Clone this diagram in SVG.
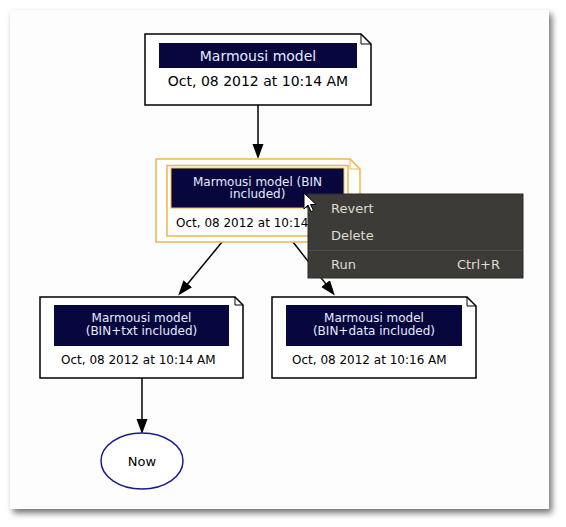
<svg xmlns="http://www.w3.org/2000/svg" width="566" height="527" viewBox="0 0 566 527">
<defs>
<filter id="sh" x="-5%" y="-5%" width="112%" height="112%">
<feDropShadow dx="3" dy="4" stdDeviation="3" flood-color="#000" flood-opacity="0.55"/>
</filter>
<marker id="ah" markerUnits="userSpaceOnUse" markerWidth="16" markerHeight="12" refX="1" refY="5.5" orient="auto">
<path d="M0,0 L15,5.5 L0,11 z" fill="#000"/>
</marker>
<style>
.note{fill:#fff;stroke:#000;stroke-width:1.5}
.fold{fill:none;stroke:#000;stroke-width:1}
.bar{fill:#07073e}
.title{font-family:"DejaVu Sans",sans-serif;fill:#e4ebff;text-anchor:middle}
.date{font-family:"DejaVu Sans",sans-serif;fill:#000;font-size:12px}
.sel{fill:#fff;stroke:#f0b545;stroke-width:1.5}
.conn line{stroke:#000;stroke-width:1.5;marker-end:url(#ah)}
.menu text{font-family:"DejaVu Sans",sans-serif;font-size:13px;fill:#dfdbd2}
</style>
</defs>
<rect width="566" height="527" fill="#fff"/>
<rect x="10" y="10" width="539" height="499" fill="#fdfdfd" filter="url(#sh)"/>

<g id="connectors" class="conn">
<line x1="258" y1="105" x2="258" y2="145"/>
<line x1="222" y1="242" x2="187.1" y2="284.6"/>
<line x1="293" y1="242" x2="326.2" y2="284.4"/>
<line x1="142" y1="378" x2="142" y2="420"/>
</g>

<g id="node-top">
<path class="note" d="M145,34 H361 L371,44 V105 H145 z"/>
<path class="fold" d="M361,34 V44 H371"/>
<rect class="bar" x="159" y="43" width="198" height="25"/>
<text class="title" x="258" y="61" font-size="14">Marmousi model</text>
<text class="date" x="258" y="86" font-size="14" text-anchor="middle" style="font-size:14px">Oct, 08 2012 at 10:14 AM</text>
</g>

<g id="node-bin">
<path class="sel" d="M156,159 H350 L360,169 V242 H156 z"/>
<path d="M350,159 V169 H360" fill="none" stroke="#f0b545" stroke-width="1"/>
<rect class="sel" x="167" y="165.5" width="181" height="70.5"/>
<rect class="bar" x="171" y="168" width="173" height="40" stroke="#f0b545" stroke-width="1"/>
<text class="title" x="257.5" y="185.5" font-size="12">Marmousi model (BIN</text>
<text class="title" x="257.5" y="198" font-size="12">included)</text>
<text class="date" x="176" y="226.5">Oct, 08 2012 at 10:14 AM</text>
</g>

<g id="node-txt">
<path class="note" d="M40,297 H235 L243,305 V378 H40 z"/>
<path class="fold" d="M235,297 V305 H243"/>
<rect class="bar" x="54" y="305" width="175" height="41"/>
<text class="title" x="141.5" y="321.5" font-size="12">Marmousi model</text>
<text class="title" x="141.5" y="334.5" font-size="12">(BIN+txt included)</text>
<text class="date" x="61" y="363.5">Oct, 08 2012 at 10:14 AM</text>
</g>

<g id="node-data">
<path class="note" d="M272,297 H467 L476,306 V378 H272 z"/>
<path class="fold" d="M467,297 V306 H476"/>
<rect class="bar" x="286" y="305" width="176" height="41"/>
<text class="title" x="374" y="321.5" font-size="12">Marmousi model</text>
<text class="title" x="374" y="334.5" font-size="12">(BIN+data included)</text>
<text class="date" x="292" y="363.5">Oct, 08 2012 at 10:16 AM</text>
</g>

<g id="node-now">
<ellipse cx="142" cy="461" rx="41" ry="28" fill="#fff" stroke="#1b1b8a" stroke-width="1.5"/>
<text x="142" y="466" font-family="DejaVu Sans, sans-serif" font-size="13" text-anchor="middle" fill="#000">Now</text>
</g>

<g id="context-menu" class="menu">
<rect x="308" y="194" width="215" height="84" fill="#3c3b37" stroke="#2e2d2a" stroke-width="1"/>
<line x1="309" y1="250.5" x2="522" y2="250.5" stroke="#4e4d48" stroke-width="1"/>
<text x="331" y="212.5">Revert</text>
<text x="331" y="239.5">Delete</text>
<text x="331" y="268.5">Run</text>
<text x="500" y="268.5" text-anchor="end">Ctrl+R</text>
</g>

<g id="cursor">
<path d="M304,193 V209 L308,205 L311,211.5 L313.5,210.5 L310.5,204.5 L316,204.5 z" fill="#fff" stroke="#000" stroke-width="1" stroke-linejoin="round"/>
</g>
</svg>
